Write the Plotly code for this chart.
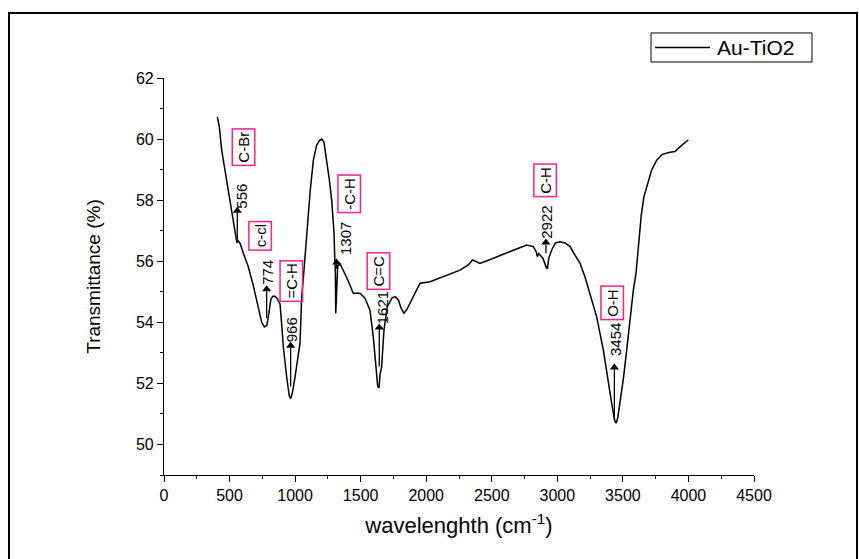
import plotly.graph_objects as go

# ---- data ----
wavenumber = [407, 422, 440, 465, 491, 516, 542, 552, 556, 560, 580, 605, 643, 681, 719, 745,
              765, 785, 800, 815, 830, 845, 860, 885, 900, 910, 936, 955, 966, 980, 999, 1020,
              1037, 1045, 1050, 1062, 1088, 1115, 1139, 1164, 1185, 1203, 1220, 1241, 1260,
              1279, 1297, 1303, 1307, 1310, 1315, 1325, 1345, 1368, 1400, 1444, 1495, 1533,
              1571, 1596, 1617, 1630, 1640, 1648, 1660, 1678, 1703, 1740, 1762, 1787, 1810,
              1830, 1850, 1876, 1915, 1953, 2029, 2130, 2258, 2321, 2353, 2375, 2410, 2512,
              2639, 2766, 2817, 2840, 2847, 2858, 2868, 2890, 2915, 2924, 2935, 2957, 2985,
              3020, 3060, 3097, 3135, 3173, 3210, 3249, 3300, 3351, 3389, 3420, 3440, 3450,
              3462, 3478, 3505, 3529, 3555, 3580, 3600, 3618, 3640, 3660, 3681, 3719, 3757,
              3800, 3859, 3897, 3950, 3999]
transmittance = [60.73, 60.4, 59.64, 58.99, 58.22, 57.57, 57.02, 56.75, 56.6, 56.7, 56.59, 56.26,
                 55.82, 55.2, 54.5, 54.0, 53.85, 53.9, 54.3, 54.75, 54.85, 54.85, 54.8, 54.6,
                 53.8, 53.2, 52.2, 51.6, 51.5, 51.7, 52.2, 52.8, 53.3, 54.2, 54.84, 55.4, 56.9,
                 58.3, 59.3, 59.8, 59.95, 60.0, 59.9, 59.3, 58.7, 58.0, 56.9, 56.0, 55.7, 54.3,
                 55.0, 55.85, 55.9, 55.7, 55.4, 54.95, 54.95, 54.79, 54.4, 53.53, 52.55, 51.9,
                 51.85, 52.3, 52.55, 53.75, 54.51, 54.8, 54.84, 54.73, 54.45, 54.3, 54.4, 54.62,
                 55.0, 55.28, 55.33, 55.5, 55.71, 55.88, 56.04, 56.0, 55.93, 56.1, 56.31, 56.53,
                 56.48, 56.3, 56.15, 56.25, 56.2, 56.1, 55.8, 55.75, 56.1, 56.37, 56.6, 56.64,
                 56.6, 56.48, 56.2, 55.93, 55.5, 54.95, 54.18, 53.09, 52.0, 51.2, 50.75, 50.7,
                 50.9, 51.35, 52.2, 53.09, 54.1, 55.06, 55.6, 56.5, 57.5, 58.1, 58.44, 58.99,
                 59.3, 59.5, 59.57, 59.59, 59.8, 59.97]

# peak arrows: x, base y, tip y
arrow_x = [559, 783, 966, 1317, 1642, 2913, 3435]
arrow_base = [56.7, 54.14, 51.9, 55.75, 52.55, 56.26, 50.8]
arrow_tip = [57.79, 55.22, 53.37, 56.1, 53.97, 56.75, 52.66]

# peak numbers
num_text = ["556", "774", "966", "1307", "1621", "2922", "3454"]
num_x = [593, 788, 979, 1386, 1663, 2911, 3440]
num_y = [58.14, 55.63, 53.75, 56.75, 54.46, 57.28, 53.42]

# boxed group labels
grp_text = ["C-Br", "c-cl", "=C-H", "-C-H", "C=C", "C-H", "O-H"]
grp_x = [609, 732, 974, 1413, 1638, 2904, 3419]
grp_y = [59.73, 56.83, 55.34, 58.2, 55.67, 58.64, 54.63]

series_name = "Au-TiO2"
x_ticks = [0, 500, 1000, 1500, 2000, 2500, 3000, 3500, 4000, 4500]
y_ticks = [50, 52, 54, 56, 58, 60, 62]

FONT = "Liberation Sans, Arial, sans-serif"
PINK = "#ff1f8e"

fig = go.Figure()
fig.add_trace(go.Scatter(x=wavenumber, y=transmittance, mode="lines", name=series_name,
                         showlegend=False, line=dict(color="black", width=1.5)))

# arrow shafts and heads, built from the arrow lists
shaft_x, shaft_y = [], []
for x, b, t in zip(arrow_x, arrow_base, arrow_tip):
    shaft_x += [x, x, None]
    shaft_y += [b, t - 0.2, None]
fig.add_trace(go.Scatter(x=shaft_x, y=shaft_y, mode="lines", showlegend=False,
                         hoverinfo="skip", line=dict(color="black", width=1.3)))
fig.add_trace(go.Scatter(x=arrow_x, y=[t - 0.14 for t in arrow_tip], mode="markers",
                         showlegend=False, hoverinfo="skip",
                         marker=dict(symbol="triangle-up", size=8, color="black",
                                     line=dict(width=0))))

annotations = []
for s, x, y in zip(num_text, num_x, num_y):
    annotations.append(dict(x=x, y=y, xref="x", yref="y", text=s, showarrow=False,
                            textangle=-90, xanchor="center", yanchor="middle",
                            font=dict(family=FONT, size=15, color="black")))
for s, x, y in zip(grp_text, grp_x, grp_y):
    annotations.append(dict(x=x, y=y, xref="x", yref="y", text=s, showarrow=False,
                            textangle=-90, xanchor="center", yanchor="middle",
                            bordercolor=PINK, borderwidth=1.5, borderpad=2,
                            font=dict(family=FONT, size=15, color="black")))

# legend (drawn as box + sample line + text)
annotations.append(dict(x=0.9339, y=1.0768, xref="paper", yref="paper", text=series_name,
                        showarrow=False, xanchor="left", yanchor="middle",
                        font=dict(family=FONT, size=21, color="black")))

shapes = [
    dict(type="rect", xref="paper", yref="paper", x0=-0.2627, x1=1.1746, y0=-0.25, y1=1.1637,
         line=dict(color="black", width=2)),
    dict(type="rect", xref="paper", yref="paper", x0=0.8254, x1=1.0983, y0=1.0403, y1=1.1134,
         line=dict(color="black", width=1), fillcolor="white"),
    dict(type="line", xref="paper", yref="paper", x0=0.8322, x1=0.9254, y0=1.0768, y1=1.0768,
         line=dict(color="black", width=1.5)),
]

fig.update_layout(
    width=859, height=559,
    margin=dict(l=164, r=105, t=78, b=84),
    paper_bgcolor="white", plot_bgcolor="white",
    font=dict(family=FONT, color="black"),
    showlegend=False,
    annotations=annotations,
    shapes=shapes,
)

fig.update_xaxes(range=[0, 4500], tickvals=x_ticks, ticks="outside", ticklen=6, tickwidth=1,
                 tickcolor="black", showline=True, linecolor="black", linewidth=1.2,
                 showgrid=False, zeroline=False,
                 minor=dict(dtick=250, tick0=0, ticks="outside", ticklen=3, tickcolor="black"),
                 tickfont=dict(family=FONT, size=16, color="black"),
                 title=dict(text="wavelenghth (cm<sup>-1</sup>)", standoff=14,
                            font=dict(family=FONT, size=22, color="black")))
fig.update_yaxes(range=[49, 62], tickvals=y_ticks, ticks="outside", ticklen=6, tickwidth=1,
                 tickcolor="black", showline=True, linecolor="black", linewidth=1.2,
                 showgrid=False, zeroline=False,
                 minor=dict(dtick=1, tick0=49, ticks="outside", ticklen=3, tickcolor="black"),
                 tickfont=dict(family=FONT, size=16, color="black"),
                 title=dict(text="Transmittance (%)", standoff=30,
                            font=dict(family=FONT, size=19, color="black")))

fig.write_html("out.html")
